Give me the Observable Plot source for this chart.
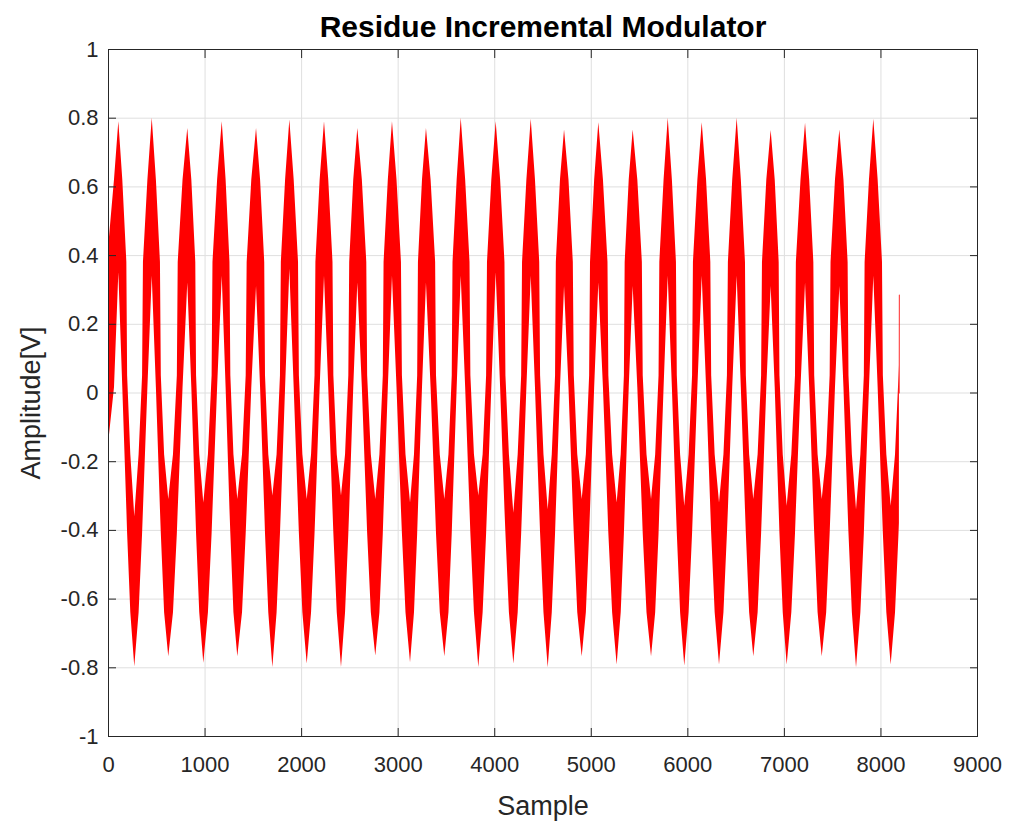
<!DOCTYPE html>
<html><head><meta charset="utf-8">
<script src="https://cdn.jsdelivr.net/npm/d3@7"></script>
<script src="https://cdn.jsdelivr.net/npm/@observablehq/plot@0.6"></script>
<style>html,body{margin:0;padding:0;background:#fff;} #chart svg{display:block;}</style>
</head><body><div id="chart"></div>
<script>
const titleText = "Residue Incremental Modulator";
const xLabel = "Sample";
const yLabel = "Amplitude[V]";
const xTicks = [0, 1000, 2000, 3000, 4000, 5000, 6000, 7000, 8000, 9000];
const xTickLabels = ["0", "1000", "2000", "3000", "4000", "5000", "6000", "7000", "8000", "9000"];
const yTicks = [-1, -0.8, -0.6, -0.4, -0.2, 0, 0.2, 0.4, 0.6, 0.8, 1];
const yTickLabels = ["-1", "-0.8", "-0.6", "-0.4", "-0.2", "0", "0.2", "0.4", "0.6", "0.8", "1"];

// Red band: at each listed sample the band spans [low, high].
const startSample = 0, startLow = -0.15, startHigh = 0.42;
// peaks: tip value and the level where the white notch under the tip closes
const peakSample = [107, 453, 821, 1178, 1533, 1878, 2237, 2582, 2941, 3293, 3653, 4015, 4378, 4723, 5078, 5434, 5797, 6149, 6511, 6863, 7219, 7574, 7926];
const peakValue  = [0.79, 0.80, 0.77, 0.79, 0.77, 0.795, 0.79, 0.77, 0.79, 0.77, 0.80, 0.79, 0.797, 0.766, 0.787, 0.766, 0.80, 0.787, 0.80, 0.764, 0.785, 0.766, 0.797];
const peakNotch  = [0.35, 0.34, 0.32, 0.34, 0.31, 0.36, 0.34, 0.32, 0.34, 0.32, 0.34, 0.35, 0.34, 0.31, 0.32, 0.31, 0.34, 0.34, 0.34, 0.31, 0.32, 0.31, 0.34];
// troughs: tip value and the level where the white notch above the tip closes
const troughSample = [272, 624, 987, 1339, 1702, 2058, 2413, 2768, 3128, 3483, 3835, 4198, 4554, 4906, 5268, 5624, 5968, 6328, 6683, 7029, 7392, 7747, 8106];
const troughValue  = [-0.797, -0.768, -0.787, -0.768, -0.799, -0.789, -0.799, -0.766, -0.785, -0.768, -0.799, -0.789, -0.80, -0.768, -0.792, -0.768, -0.795, -0.792, -0.768, -0.792, -0.768, -0.80, -0.792];
const troughNotch  = [-0.36, -0.31, -0.32, -0.31, -0.30, -0.31, -0.30, -0.31, -0.32, -0.31, -0.30, -0.35, -0.34, -0.31, -0.32, -0.31, -0.33, -0.32, -0.31, -0.33, -0.31, -0.34, -0.33];
// flanks of each peak
const nearPeakSample = [62, 148, 408, 496, 772, 863, 1130, 1218, 1484, 1575, 1834, 1923, 2192, 2281, 2540, 2629, 2898, 2988, 3252, 3341, 3611, 3699, 3970, 4061, 4333, 4422, 4681, 4769, 5035, 5126, 5393, 5482, 5754, 5840, 6104, 6194, 6465, 6554, 6818, 6905, 7172, 7262, 7529, 7617, 7881, 7971];
const nearPeakLow = 0.015, nearPeakHigh = 0.62;
// flanks of each trough
const nearTroughSample = [231, 317, 581, 673, 945, 1035, 1299, 1388, 1660, 1746, 2013, 2103, 2369, 2455, 2722, 2811, 3081, 3169, 3436, 3526, 3790, 3880, 4152, 4243, 4510, 4596, 4860, 4949, 5221, 5310, 5577, 5667, 5925, 6013, 6283, 6374, 6640, 6728, 6988, 7077, 7349, 7438, 7704, 7792, 8061, 8151];
const nearTroughLow = -0.64, nearTroughHigh = -0.18;
// just before the shoulder step on each leg
const stepSample = [198, 353, 547, 713, 912, 1073, 1267, 1426, 1626, 1781, 1977, 2139, 2334, 2489, 2684, 2846, 3044, 3202, 3397, 3560, 3753, 3916, 4116, 4279, 4475, 4630, 4824, 4983, 5182, 5343, 5538, 5702, 5891, 6049, 6247, 6410, 6606, 6764, 6954, 7115, 7314, 7474, 7669, 7828, 8025, 8187];
const stepLow = -0.41, stepHigh = 0.05;
// middle of each leg
const midSample = [190, 362, 538, 722, 904, 1082, 1258, 1436, 1618, 1790, 1968, 2148, 2325, 2498, 2675, 2854, 3034, 3210, 3388, 3568, 3744, 3925, 4106, 4288, 4466, 4638, 4814, 4992, 5173, 5351, 5529, 5710, 5882, 6058, 6238, 6420, 6597, 6773, 6946, 7124, 7305, 7483, 7660, 7836, 8016];
const midLow = -0.34, midHigh = 0.38;
const endSample = 8191, endLow = -0.38, endHigh = 0.08;
// thin final stroke
const tailSample = [8190, 8191];
const tailValue = [0.0, 0.285];

const envelope = [{s: startSample, lo: startLow, hi: startHigh}];
peakSample.forEach((s, i) => envelope.push({s, lo: peakNotch[i], hi: peakValue[i]}));
troughSample.forEach((s, i) => envelope.push({s, lo: troughValue[i], hi: troughNotch[i]}));
nearPeakSample.forEach(s => envelope.push({s, lo: nearPeakLow, hi: nearPeakHigh}));
nearTroughSample.forEach(s => envelope.push({s, lo: nearTroughLow, hi: nearTroughHigh}));
stepSample.forEach(s => envelope.push({s, lo: stepLow, hi: stepHigh}));
midSample.forEach(s => envelope.push({s, lo: midLow, hi: midHigh}));
envelope.push({s: endSample, lo: endLow, hi: endHigh});
envelope.sort((a, b) => a.s - b.s);
const tail = tailSample.map((s, i) => ({s, v: tailValue[i]}));

const lineColor = "#ff0000";
const gridColor = "#dfdfdf";
const axisColor = "#262626";
const fmtX = d => xTickLabels[xTicks.indexOf(d)];
const fmtY = d => yTickLabels[yTicks.indexOf(d)];

const chart = Plot.plot({
  width: 1014, height: 825,
  marginLeft: 108, marginRight: 37, marginTop: 49, marginBottom: 89,
  style: {fontFamily: "'Liberation Sans', Arial, Helvetica, sans-serif", fontSize: "22px", color: axisColor, background: "#fff"},
  x: {domain: [0, 9000]},
  y: {domain: [-1, 1]},
  marks: [
    Plot.gridX(xTicks, {stroke: gridColor, strokeOpacity: 1}),
    Plot.gridY(yTicks, {stroke: gridColor, strokeOpacity: 1}),
    Plot.areaY(envelope, {x: "s", y1: "lo", y2: "hi", fill: lineColor, curve: "linear"}),
    Plot.line(tail, {x: "s", y: "v", stroke: lineColor, strokeWidth: 1.2, strokeOpacity: 0.7}),
    Plot.frame({stroke: axisColor, strokeWidth: 1}),
    Plot.axisX(xTicks, {anchor: "bottom", tickSize: 0, tickPadding: 20, tickFormat: fmtX, label: null, fontSize: 22}),
    Plot.axisX(xTicks, {anchor: "bottom", tickSize: 8, dy: -8, tickFormat: () => "", label: null}),
    Plot.axisX(xTicks, {anchor: "top", tickSize: 8, dy: 8, tickFormat: () => "", label: null}),
    Plot.axisY(yTicks, {anchor: "left", tickSize: 0, tickPadding: 10, tickFormat: fmtY, label: null, fontSize: 22}),
    Plot.axisY(yTicks, {anchor: "left", tickSize: 8, dx: 8, tickFormat: () => "", label: null}),
    Plot.axisY(yTicks, {anchor: "right", tickSize: 8, dx: -8, tickFormat: () => "", label: null}),
    Plot.text([titleText], {frameAnchor: "top", dy: -22, text: d => d, fontWeight: "bold", fontSize: 30, fill: "#000", lineAnchor: "middle"}),
    Plot.text([xLabel], {frameAnchor: "bottom", dy: 70, text: d => d, fontSize: 27, lineAnchor: "middle", fill: axisColor}),
    Plot.text([yLabel], {frameAnchor: "left", dx: -77, dy: 10, rotate: -90, text: d => d, fontSize: 27, textAnchor: "middle", lineAnchor: "middle", fill: axisColor})
  ]
});
document.getElementById("chart").appendChild(chart);
</script>
</body></html>
